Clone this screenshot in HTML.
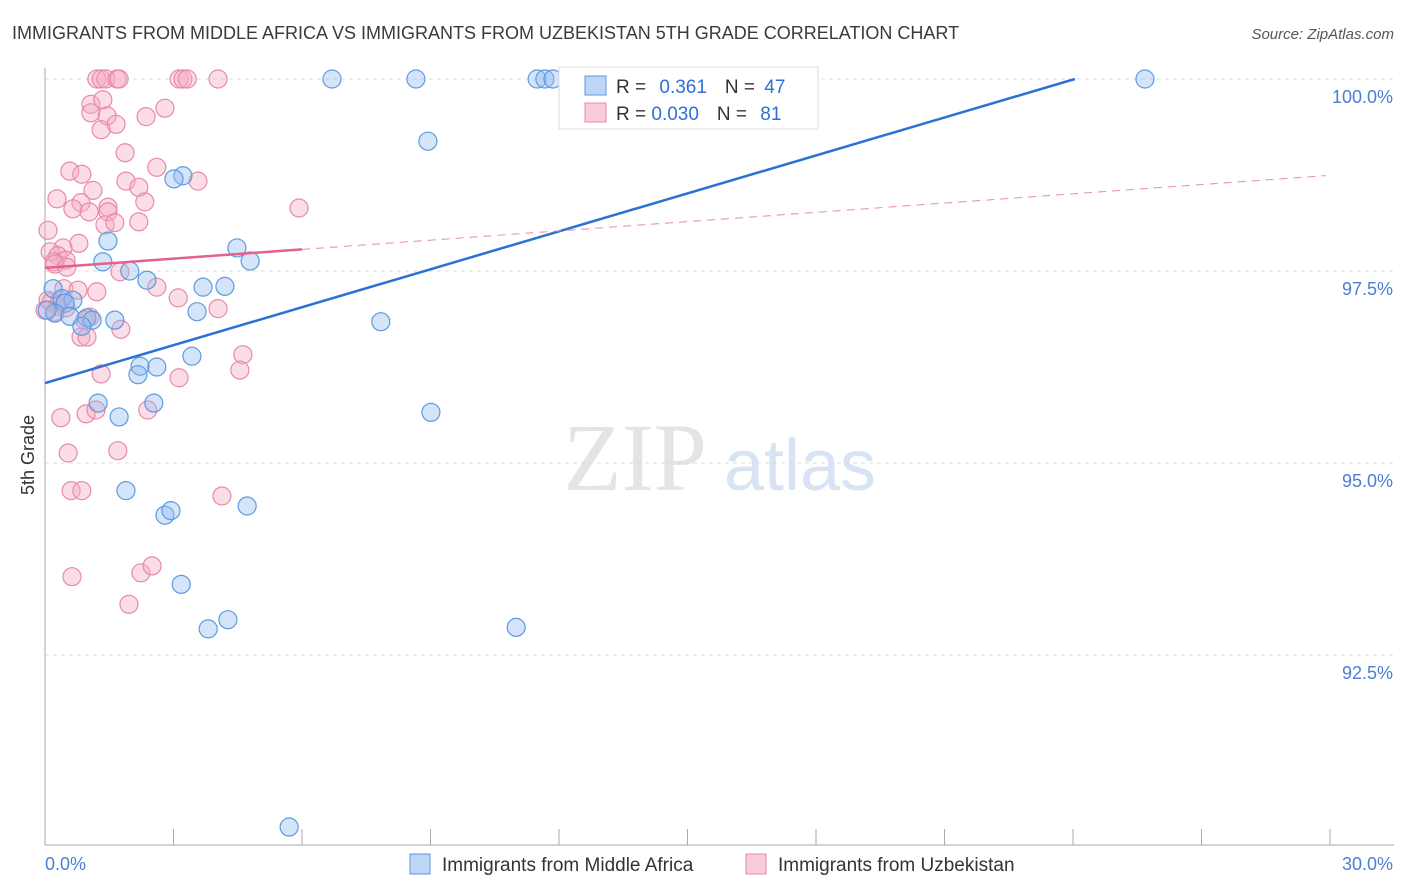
<!DOCTYPE html>
<html><head><meta charset="utf-8"><style>
body{margin:0;background:#fff;font-family:"Liberation Sans",sans-serif;}
svg{display:block}
</style></head><body>
<svg id="chart" width="1406" height="892" xmlns="http://www.w3.org/2000/svg">
<text x="12" y="39" font-size="18" fill="#3a3a3a">IMMIGRANTS FROM MIDDLE AFRICA VS IMMIGRANTS FROM UZBEKISTAN 5TH GRADE CORRELATION CHART</text>
<text x="1394" y="39" font-size="15" fill="#555" font-style="italic" text-anchor="end">Source: ZipAtlas.com</text>
<text transform="translate(34,455) rotate(-90)" font-size="18" fill="#333" text-anchor="middle">5th Grade</text>
<g>
<text x="635" y="490" font-size="96" fill="#e4e4e4" font-family="Liberation Serif,serif" text-anchor="middle">ZIP</text>
<text x="800" y="490" font-size="72" fill="#d8e4f4" text-anchor="middle">atlas</text>
</g>
<g id="grid"></g><g id="axes"></g><g id="pts"></g><g id="lines"></g>
<g>
<rect x="559" y="67" width="259" height="62" fill="#fff" stroke="#ddd"/>
<rect x="585" y="76" width="21" height="19" fill="rgba(147,187,240,0.6)" stroke="#5b9be0"/>
<rect x="585" y="103" width="21" height="19" fill="rgba(244,170,195,0.6)" stroke="#e88aa8"/>
<text x="616" y="93" font-size="19" fill="#333">R = <tspan fill="#2f6fd6" dx="8">0.361</tspan><tspan dx="18" fill="#333">N = </tspan><tspan fill="#2f6fd6" dx="4">47</tspan></text>
<text x="616" y="120" font-size="19" fill="#333">R = <tspan fill="#2f6fd6">0.030</tspan><tspan dx="18" fill="#333">N = </tspan><tspan fill="#2f6fd6" dx="8">81</tspan></text>
</g>
<g>
<rect x="410" y="854" width="20" height="20" fill="rgba(147,187,240,0.6)" stroke="#5b9be0"/>
<text x="442" y="871" font-size="19" fill="#333">Immigrants from Middle Africa</text>
<rect x="746" y="854" width="20" height="20" fill="rgba(244,170,195,0.6)" stroke="#e88aa8"/>
<text x="778" y="871" font-size="19" fill="#333">Immigrants from Uzbekistan</text>
</g>
</svg>
<script>
const blueX=[6.70,8.66,11.49,11.67,11.86,25.68,8.94,3.22,3.01,1.47,4.48,4.79,1.35,1.98,2.38,4.20,3.69,0.19,0.40,0.65,0.47,3.55,0.23,0.58,0.98,1.10,1.63,7.84,0.86,3.43,2.22,2.61,2.17,1.24,2.54,1.73,9.01,1.89,2.80,2.94,4.72,3.18,3.81,4.27,11.00,5.70,0.05];
const blueY=[100,100,100,100,100,100,99.19,98.74,98.70,97.89,97.80,97.63,97.62,97.50,97.38,97.30,97.29,97.27,97.14,97.12,97.08,96.97,96.95,96.91,96.89,96.86,96.86,96.84,96.78,96.39,96.26,96.25,96.15,95.78,95.78,95.60,95.66,94.64,94.32,94.38,94.44,93.42,92.84,92.96,92.86,90.26,96.99];
const pinkX=[1.21,1.31,1.42,1.68,1.73,3.13,3.22,3.32,4.04,1.07,1.35,1.07,1.45,1.66,1.31,2.36,2.80,1.87,2.61,0.58,0.86,1.12,1.89,2.19,3.57,0.28,0.84,0.65,1.03,1.47,1.47,2.33,5.93,1.40,1.63,2.19,0.07,0.79,0.42,0.12,0.30,0.49,0.21,0.23,0.51,1.75,2.61,3.11,4.04,0.44,0.77,1.21,0.14,0.07,0.30,0.49,0.23,1.05,1.77,0.84,0.98,4.62,4.55,1.31,3.13,0.37,0.96,1.19,2.40,0.54,1.70,0.61,0.86,4.13,0.63,2.24,2.50,1.96,0.35,0.93,0.00];
const pinkY=[100,100,100,100,100,100,100,100,100,99.67,99.73,99.56,99.52,99.41,99.34,99.51,99.62,99.04,98.85,98.80,98.76,98.55,98.67,98.59,98.67,98.44,98.39,98.31,98.27,98.33,98.27,98.40,98.32,98.10,98.13,98.14,98.03,97.86,97.80,97.75,97.70,97.64,97.62,97.59,97.55,97.49,97.29,97.15,97.01,97.27,97.25,97.23,97.10,97.12,97.04,97.02,96.97,96.90,96.74,96.64,96.64,96.41,96.21,96.16,96.11,95.59,95.64,95.69,95.69,95.13,95.16,94.64,94.64,94.57,93.52,93.57,93.66,93.16,97.12,96.86,96.99];
const yTicks=[100,97.5,95,92.5];
const yTickLabels=["100.0%","97.5%","95.0%","92.5%"];
const xTicks=[0,3,6,9,12,15,18,21,24,27,30];
const blueTrend=[96.04,0.1647];
const pinkTrend=[97.54,0.0402];
const NS="http://www.w3.org/2000/svg";
const sx=v=>45+v/30*1285, sy=v=>79+(100-v)*76.8;
function mk(tag,attrs,parent){const e=document.createElementNS(NS,tag);for(const k in attrs)e.setAttribute(k,attrs[k]);document.getElementById(parent).appendChild(e);return e;}
yTicks.forEach((t,i)=>{
 const g=mk('line',{x1:45,x2:1394,y1:sy(t),y2:sy(t),stroke:'#ddd','stroke-dasharray':'4,4'},'grid');
 
 
 const l=mk('text',{x:1393,y:sy(t)+24,'font-size':18,fill:'#4a7fd4','text-anchor':'end'},'axes');
 l.textContent=yTickLabels[i];
 
 
});
const ax=mk('line',{x1:45,x2:45,y1:68,y2:845,stroke:'#aaa'},'axes');


const bx=mk('line',{x1:45,x2:1394,y1:845,y2:845,stroke:'#aaa'},'axes');


xTicks.forEach(t=>{
 const k=mk('line',{x1:sx(t),x2:sx(t),y1:829,y2:845,stroke:'#aaa'},'axes');
 
 
});
const xl0=mk('text',{x:45,y:870,'font-size':18,fill:'#4a7fd4'},'axes');xl0.textContent=xTicks[0].toFixed(1)+'%';


const xl1=mk('text',{x:1393,y:870,'font-size':18,fill:'#4a7fd4','text-anchor':'end'},'axes');xl1.textContent=xTicks[xTicks.length-1].toFixed(1)+'%';


pinkX.forEach((x,i)=>{
 const c=mk('circle',{cx:sx(x),cy:sy(pinkY[i]),r:9,fill:'rgba(244,170,195,0.4)',stroke:'#e88aa8','stroke-width':1.2},'pts');
 
 
});
blueX.forEach((x,i)=>{
 const c=mk('circle',{cx:sx(x),cy:sy(blueY[i]),r:9,fill:'rgba(147,187,240,0.4)',stroke:'#5b9be0','stroke-width':1.2},'pts');
 
 
});
const bxEnd=(100-blueTrend[0])/blueTrend[1];
const bl=mk('line',{x1:sx(0),y1:sy(blueTrend[0]),x2:sx(bxEnd),y2:sy(100),stroke:'#2a72d6','stroke-width':2.5},'lines');


const pd=mk('line',{x1:sx(6),y1:sy(pinkTrend[0]+6*pinkTrend[1]),x2:sx(29.9),y2:sy(pinkTrend[0]+29.9*pinkTrend[1]),stroke:'#e88aa8','stroke-width':1,'stroke-dasharray':'8,6'},'lines');


const pl=mk('line',{x1:sx(0),y1:sy(pinkTrend[0]),x2:sx(6),y2:sy(pinkTrend[0]+6*pinkTrend[1]),stroke:'#e5608a','stroke-width':2.5},'lines');


</script>
</body></html>
